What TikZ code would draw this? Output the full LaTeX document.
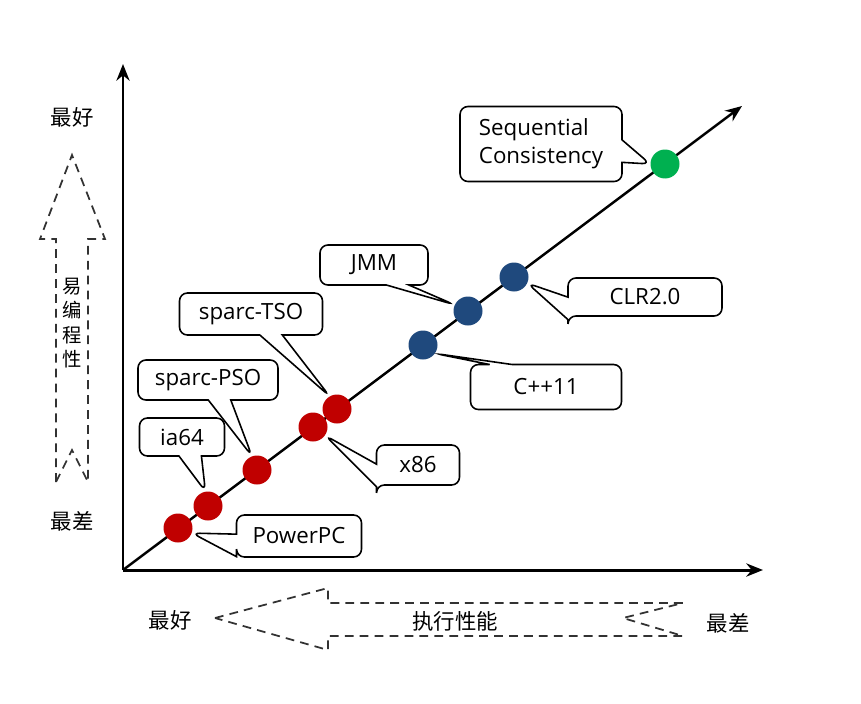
\documentclass[tikz,border=0pt]{standalone}
\usepackage{fontspec}
\setmainfont{Open Sans}
\newfontfamily\cjk{Noto Sans CJK SC}
\usetikzlibrary{shapes.callouts}
\usetikzlibrary{arrows.meta}
\definecolor{mred}{RGB}{192,0,0}
\definecolor{mblue}{RGB}{31,73,125}
\definecolor{mgreen}{RGB}{0,176,80}
\definecolor{dashgray}{RGB}{50,50,50}
\tikzset{
  dot/.style={circle,fill=#1,inner sep=0,minimum size=0.58cm},
  tag/.style={rectangle callout,draw,fill=white,rounded corners=4.5pt,line width=0.9pt,
    inner sep=0,outer sep=0,callout pointer width=0.45cm,font=\fontsize{12.7}{16}\selectfont},
  bigarrow/.style={draw=dashgray,line width=1pt,dash pattern=on 5pt off 3.5pt},
  cn/.style={font=\fontsize{12.2}{15}\selectfont\cjk}
}
\begin{document}
\begin{tikzpicture}[x=0.02cm,y=-0.02cm]
\useasboundingbox (0,0) rectangle (861,703);
\coordinate (o) at (123,570);
\coordinate (ytip) at (123,64);
\coordinate (xtip) at (763,570);
\coordinate (dtip) at (742,106);
\draw [line width=1.7pt,-{Stealth[length=9.5pt,width=7.5pt]}] (o) -- (ytip);
\draw [line width=1.7pt,-{Stealth[length=9.5pt,width=7.5pt]}] (o) -- (xtip);
\draw [line width=1.4pt,-{Stealth[length=9.5pt,width=7.5pt]}] (o) -- (dtip);

\node[dot=mred] at (178,528) (ppc){};
\node[dot=mred] at (208,506) (ia){};
\node[dot=mred] at (257,470) (pso){};
\node[dot=mred] at (313,427) (x86){};
\node[dot=mred] at (337,409) (tso){};
\node[dot=mblue] at (423,345) (cpp){};
\node[dot=mblue] at (468,311) (jmm){};
\node[dot=mblue] at (514,277) (clr){};
\node[dot=mgreen] at (665,164) (sc){};

\node[tag,align=left,minimum width=3.24cm,minimum height=1.5cm,callout absolute pointer={(sc.west)}] at (541,144) (scl){Sequential\\Consistency};
\node[tag,minimum width=3.08cm,minimum height=0.76cm,callout absolute pointer={(clr.-25)}] at (645,297) (clrl){CLR2.0};
\node[tag,minimum width=2.16cm,minimum height=0.8cm,callout absolute pointer={(jmm.155)}] at (374,265) (jmml){JMM};
\node[tag,minimum width=3.02cm,minimum height=0.9cm,callout absolute pointer={(cpp.-35)}] at (546,387) (cppl){C++11};
\node[tag,minimum width=2.86cm,minimum height=0.84cm,callout absolute pointer={(tso.120)}] at (251,314) (tsol){sparc-TSO};
\node[tag,minimum width=2.8cm,minimum height=0.8cm,callout absolute pointer={(pso.110)}] at (208,380) (psol){sparc-PSO};
\node[tag,minimum width=1.7cm,minimum height=0.76cm,callout absolute pointer={(ia.100)}] at (182,437) (ial){ia64};
\node[tag,minimum width=1.66cm,minimum height=0.8cm,callout absolute pointer={(x86.-35)}] at (418,465) (x86l){x86};
\node[tag,minimum width=2.5cm,minimum height=0.84cm,callout absolute pointer={(ppc.-20)}] at (299,536) (ppcl){PowerPC};

% ease of programming
\draw[bigarrow] (56,482) -- (56,239) -- (40,239) -- (72,155) -- (105,239) -- (88,239) -- (88,482) -- (72,450) -- cycle;
\node[font=\fontsize{11}{14}\selectfont\cjk,align=center] at (72,323) (ease){易\\编\\程\\性};
\node[cn] at (72,117) (ybest){最好};
\node[cn] at (72,521) (yworst){最差};

% performance
\draw[bigarrow] (215,618) -- (328,588) -- (328,603) -- (683,603) -- (623,618) -- (683,636) -- (328,636) -- (328,650) -- cycle;
\node[cn] at (455,621) (perf){执行性能};
\node[cn] at (170,620) (xbest){最好};
\node[cn] at (728,623) (xworst){最差};
\end{tikzpicture}
\end{document}
